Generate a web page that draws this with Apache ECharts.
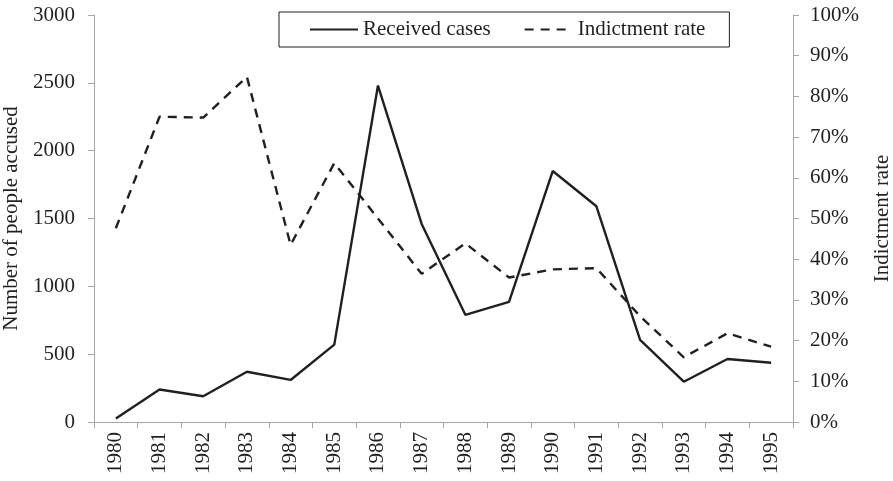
<!DOCTYPE html>
<html>
<head>
<meta charset="utf-8">
<script src="https://cdn.jsdelivr.net/npm/echarts@6/dist/echarts.min.js"></script>
<style>
  html, body { margin: 0; padding: 0; background: #fff; }
  #chart { width: 893px; height: 481px; }
</style>
</head>
<body>
<div id="chart"></div>
<script>
// years on the x axis
const years = ['1980', '1981', '1982', '1983', '1984', '1985', '1986', '1987',
  '1988', '1989', '1990', '1991', '1992', '1993', '1994', '1995'];
// number of people accused (left axis)
const receivedCases = [25, 240, 190, 370, 310, 570, 2480, 1460,
  790, 885, 1850, 1590, 605, 297, 464, 437];
// indictment rate in % (right axis)
const indictmentRate = [47.6, 75.0, 74.8, 84.8, 43.5, 63.6, 50.0, 36.4,
  43.9, 35.5, 37.5, 37.8, 26.0, 15.9, 21.8, 18.5];

const font = 'Liberation Serif';
const ink = '#231f20';
const axisGrey = '#a6a6a6';
const fs = 21;

const chart = echarts.init(document.getElementById('chart'));
chart.setOption({
  animation: false,
  textStyle: { fontFamily: font, color: ink },
  grid: {
    left: 94, right: 100, top: 15, bottom: 59,
    containLabel: false,
    outerBoundsMode: 'none'
  },
  legend: {
    left: 279,
    top: 12,
    padding: [7, 24, 7, 30],
    itemGap: 33,
    itemWidth: 48,
    itemHeight: 14,
    borderColor: ink,
    borderWidth: 1,
    itemStyle: { opacity: 0 },
    textStyle: { fontFamily: font, fontSize: fs, color: ink },
    data: ['Received cases', 'Indictment rate']
  },
  xAxis: {
    type: 'category',
    data: years,
    boundaryGap: true,
    axisLine: { lineStyle: { color: axisGrey, width: 1 } },
    axisTick: { show: true, length: 6, lineStyle: { color: axisGrey } },
    axisLabel: {
      rotate: 90,
      margin: 10,
      fontFamily: font,
      fontSize: fs,
      color: ink
    }
  },
  yAxis: [
    {
      type: 'value',
      min: 0,
      max: 3000,
      interval: 500,
      name: 'Number of people accused',
      nameLocation: 'middle',
      nameGap: 70,
      nameTextStyle: { fontFamily: font, fontSize: fs, color: ink },
      axisLine: { show: true, lineStyle: { color: axisGrey } },
      axisTick: { show: true, length: 6, lineStyle: { color: axisGrey } },
      axisLabel: {
        margin: 19,
        fontFamily: font,
        fontSize: fs,
        color: ink,
        formatter: function (value) {
          return String(value);
        }
      },
      splitLine: { show: false }
    },
    {
      type: 'value',
      min: 0,
      max: 100,
      interval: 10,
      position: 'right',
      name: 'Indictment rate',
      nameLocation: 'middle',
      nameGap: 79,
      nameRotate: 90,
      nameTextStyle: { fontFamily: font, fontSize: fs, color: ink },
      axisLine: { show: true, lineStyle: { color: axisGrey } },
      axisTick: { show: true, length: 6, lineStyle: { color: axisGrey } },
      axisLabel: {
        margin: 17,
        fontFamily: font,
        fontSize: fs,
        color: ink,
        formatter: '{value}%'
      },
      splitLine: { show: false }
    }
  ],
  series: [
    {
      name: 'Received cases',
      type: 'line',
      yAxisIndex: 0,
      data: receivedCases,
      symbol: 'none',
      lineStyle: { color: ink, width: 2.4, type: 'solid' },
      itemStyle: { color: ink }
    },
    {
      name: 'Indictment rate',
      type: 'line',
      yAxisIndex: 1,
      data: indictmentRate,
      symbol: 'none',
      lineStyle: { color: ink, width: 2.4, type: [9, 7] },
      itemStyle: { color: ink }
    }
  ]
});
</script>
</body>
</html>
